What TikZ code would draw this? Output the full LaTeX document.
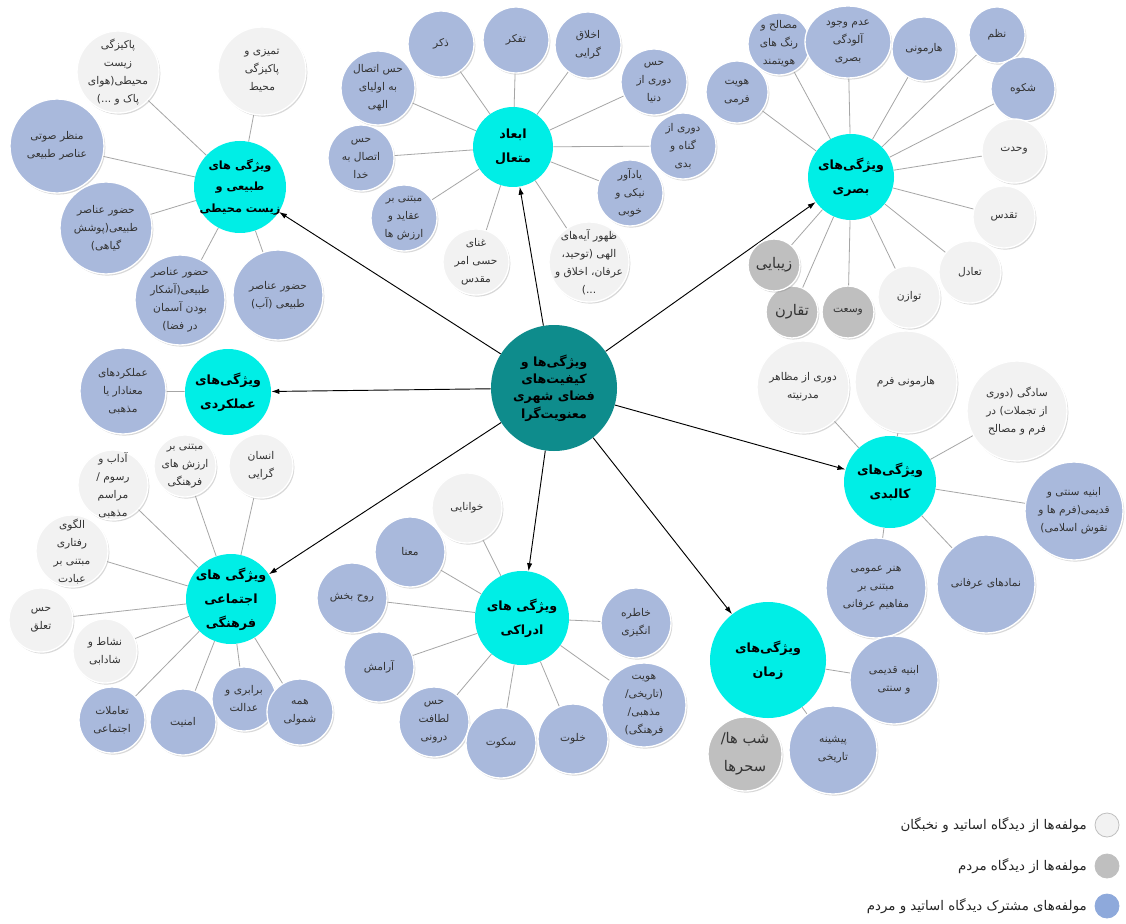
\documentclass[tikz,border=0pt]{standalone}
\usepackage{fontspec}
\usetikzlibrary{arrows.meta,shadows,shapes.geometric}
\newfontfamily\arabicfont[Script=Arabic]{DejaVu Sans}
\TeXXeTstate=1
\newcommand{\rl}[1]{\beginR #1\endR}
\definecolor{leafB}{RGB}{169,185,220}
\definecolor{leafL}{RGB}{242,242,242}
\definecolor{leafG}{RGB}{191,191,191}
\definecolor{catC}{RGB}{0,238,230}
\definecolor{ctrT}{RGB}{14,140,140}
\definecolor{legB}{RGB}{142,169,219}
\tikzset{
  rad/.style={minimum size=#1*1.5pt},
  lfbase/.style={circle, inner sep=0pt, draw=white, line width=1pt,
    drop shadow={shadow xshift=1pt, shadow yshift=-1.2pt, opacity=0.3}},
  lfblue/.style={lfbase, fill=leafB},
  lflight/.style={lfbase, fill=leafL},
  lfgray/.style={lfbase, fill=leafG},
  lftxt/.style={inner sep=0pt, align=center, text=black!80,
    font=\arabicfont\fontsize{8}{13.5}\selectfont},
  lfbig/.style={lftxt, font=\arabicfont\fontsize{11}{21}\selectfont},
  catnode/.style={circle, inner sep=0pt, fill=catC},
  cattxt/.style={inner sep=0pt, align=center,
    font=\arabicfont\bfseries\fontsize{9.5}{18}\selectfont},
  leafline/.style={draw=gray!70, line width=0.6pt},
  catarrow/.style={draw=black, line width=0.7pt, -{Latex[length=6pt,width=4pt]}},
  legtxt/.style={inner sep=0pt, anchor=east, text=black!85,
    font=\arabicfont\fontsize{10}{12}\selectfont}
}
\newcommand{\leafat}[6][lftxt]{%
  \node[#2,rad=#5] (#3) at (#4) {};
  \node[#1] (#3t) at (#3) {#6};}
\newcommand{\catat}[4]{%
  \node[catnode,rad=#3] (#1) at (#2) {};
  \node[cattxt] (#1t) at (#1) {#4};}
\begin{document}
\begin{tikzpicture}[x=0.75pt,y=-0.75pt]
\useasboundingbox (0,0) rectangle (1126,923);
\fill[white] (0,0) rectangle (1126,923);

% center
\node[circle, inner sep=0pt, fill=ctrT, rad=63] (ctr) at (554,388) {};
\node[cattxt, font=\arabicfont\bfseries\fontsize{9.5}{13}\selectfont] (ctrt) at (ctr)
  {\rl{ویژگی‌ها و}\\\rl{کیفیت‌های}\\\rl{فضای شهری}\\\rl{معنویت‌گرا}};

% categories
\node[catnode,rad=46] (c1) at (240,187) {};
\node[cattxt, font=\arabicfont\bfseries\fontsize{8.5}{16}\selectfont] (c1t) at (c1)
  {\rl{ویژگی های}\\\rl{طبیعی و}\\\rl{زیست محیطی}};
\catat{c2}{513,147}{40}{\rl{ابعاد}\\\rl{متعال}}
\catat{c3}{851,177}{43}{\rl{ویژگی‌های}\\\rl{بصری}}
\catat{c4}{228,392}{43}{\rl{ویژگی‌های}\\\rl{عملکردی}}
\catat{c5}{890,482}{46}{\rl{ویژگی‌های}\\\rl{کالبدی}}
\catat{c6}{231,599}{45}{\rl{ویژگی های}\\\rl{اجتماعی}\\\rl{فرهنگی}}
\catat{c7}{522,618}{47}{\rl{ویژگی های}\\\rl{ادراکی}}
\catat{c8}{768,660}{58}{\rl{ویژگی‌های}\\\rl{زمان}}

\foreach \c in {c1,c2,c3,c4,c5,c6,c7,c8}
  \draw[catarrow] (ctr) -- (\c);

% cluster 1
\leafat{lflight}{a1}{118,72}{41}{\rl{پاکیزگی}\\\rl{زیست}\\\rl{محیطی(هوای}\\\rl{پاک و ...)}}
\leafat{lflight}{a2}{262,71}{44}{\rl{تمیزی و}\\\rl{پاکیزگی}\\\rl{محیط}}
\leafat{lfblue}{a3}{57,146}{47}{\rl{منظر صوتی}\\\rl{عناصر طبیعی}}
\leafat{lfblue}{a4}{106,228}{46}{\rl{حضور عناصر}\\\rl{طبیعی(پوشش}\\\rl{گیاهی)}}
\leafat{lfblue}{a5}{180,300}{45}{\rl{حضور عناصر}\\\rl{طبیعی(آشکار}\\\rl{بودن آسمان}\\\rl{در فضا)}}
\leafat{lfblue}{a6}{278,295}{45}{\rl{حضور عناصر}\\\rl{طبیعی (آب)}}
\foreach \l in {a1,a2,a3,a4,a5,a6} \draw[leafline] (c1) -- (\l);

% cluster 2
\leafat{lfblue}{b1}{378,88}{37}{\rl{حس اتصال}\\\rl{به اولیای}\\\rl{الهی}}
\leafat{lfblue}{b2}{441,44}{33}{\rl{ذکر}}
\leafat{lfblue}{b3}{516,40}{33}{\rl{تفکر}}
\leafat{lfblue}{b4}{588,45}{33}{\rl{اخلاق}\\\rl{گرایی}}
\leafat{lfblue}{b5}{654,82}{33}{\rl{حس}\\\rl{دوری از}\\\rl{دنیا}}
\leafat{lfblue}{b6}{683,146}{33}{\rl{دوری از}\\\rl{گناه و}\\\rl{بدی}}
\leafat{lfblue}{b7}{630,193}{33}{\rl{یادآور}\\\rl{نیکی و}\\\rl{خوبی}}
\leafat{lflight}{b8}{589,262}{40}{\rl{ظهور آیه‌های}\\\rl{الهی (توحید،}\\\rl{عرفان، اخلاق و}\\\rl{...)}}
\leafat{lflight}{b9}{476,262}{33}{\rl{غنای}\\\rl{حسی امر}\\\rl{مقدس}}
\leafat{lfblue}{b10}{404,218}{33}{\rl{مبتنی بر}\\\rl{عقاید و}\\\rl{ارزش ها}}
\leafat{lfblue}{b11}{361,158}{33}{\rl{حس}\\\rl{اتصال به}\\\rl{خدا}}
\foreach \l in {b1,b2,b3,b4,b5,b6,b7,b8,b9,b10,b11} \draw[leafline] (c2) -- (\l);

% cluster 3
\leafat{lfblue}{d1}{737,92}{31}{\rl{هویت}\\\rl{فرمی}}
\leafat{lfblue}{d2}{779,44}{31}{\rl{مصالح و}\\\rl{رنگ های}\\\rl{هویتمند}}
\node[lfblue, ellipse, minimum width=64.5pt, minimum height=54pt] (d3) at (848,42) {};
\node[lftxt] (d3t) at (d3) {\rl{عدم وجود}\\\rl{آلودگی}\\\rl{بصری}};
\leafat{lfblue}{d4}{924,49}{32}{\rl{هارمونی}}
\leafat{lfblue}{d5}{997,35}{28}{\rl{نظم}}
\leafat{lfblue}{d6}{1023,89}{32}{\rl{شکوه}}
\leafat{lflight}{d7}{1014,151}{32}{\rl{وحدت}}
\leafat{lflight}{d8}{1004,217}{31}{\rl{تقدس}}
\leafat{lflight}{d9}{970,272}{31}{\rl{تعادل}}
\leafat{lflight}{d10}{909,297}{31}{\rl{توازن}}
\leafat{lfgray}{d11}{848,312}{26}{\rl{وسعت}}
\leafat[lfbig]{lfgray}{d12}{792,312}{26}{\rl{تقارن}}
\leafat[lfbig]{lfgray}{d13}{774,265}{26}{\rl{زیبایی}}
\foreach \l in {d1,d2,d3,d4,d5,d6,d7,d8,d9,d10,d11,d12,d13} \draw[leafline] (c3) -- (\l);

% cluster 4
\leafat{lfblue}{e1}{123,391}{43}{\rl{عملکردهای}\\\rl{معنادار یا}\\\rl{مذهبی}}
\draw[leafline] (c4) -- (e1);

% cluster 5
\leafat{lflight}{f1}{803,387}{46}{\rl{دوری از مظاهر}\\\rl{مدرنیته}}
\leafat{lflight}{f2}{906,382}{51}{\rl{هارمونی فرم}}
\leafat{lflight}{f3}{1017,411}{50}{\rl{سادگی (دوری}\\\rl{از تجملات) در}\\\rl{فرم و مصالح}}
\leafat{lfblue}{f4}{1074,511}{49}{\rl{ابنیه سنتی و}\\\rl{قدیمی(فرم ها و}\\\rl{نقوش اسلامی)}}
\leafat{lfblue}{f5}{986,584}{49}{\rl{نمادهای عرفانی}}
\leafat{lfblue}{f6}{876,588}{50}{\rl{هنر عمومی}\\\rl{مبتنی بر}\\\rl{مفاهیم عرفانی}}
\foreach \l in {f1,f2,f3,f4,f5,f6} \draw[leafline] (c5) -- (\l);

% cluster 6
\leafat{lflight}{g1}{261,466}{32}{\rl{انسان}\\\rl{گرایی}}
\leafat{lflight}{g2}{185,466}{31}{\rl{مبتنی بر}\\\rl{ارزش های}\\\rl{فرهنگی}}
\leafat{lflight}{g3}{113,485}{35}{\rl{آداب و}\\\rl{رسوم /}\\\rl{مراسم}\\\rl{مذهبی}}
\leafat{lflight}{g4}{72,551}{36}{\rl{الگوی}\\\rl{رفتاری}\\\rl{مبتنی بر}\\\rl{عبادت}}
\leafat{lflight}{g5}{41,620}{32}{\rl{حس}\\\rl{تعلق}}
\leafat{lflight}{g6}{105,651}{32}{\rl{نشاط و}\\\rl{شادابی}}
\leafat{lfblue}{g7}{112,720}{33}{\rl{تعاملات}\\\rl{اجتماعی}}
\leafat{lfblue}{g8}{183,722}{33}{\rl{امنیت}}
\leafat{lfblue}{g9}{244,699}{32}{\rl{برابری و}\\\rl{عدالت}}
\leafat{lfblue}{g10}{300,712}{33}{\rl{همه}\\\rl{شمولی}}
\foreach \l in {g1,g2,g3,g4,g5,g6,g7,g8,g9,g10} \draw[leafline] (c6) -- (\l);

% cluster 7
\leafat{lflight}{h1}{467,508}{35}{\rl{خوانایی}}
\leafat{lfblue}{h2}{410,552}{35}{\rl{معنا}}
\leafat{lfblue}{h3}{352,598}{35}{\rl{روح بخش}}
\leafat{lfblue}{h4}{379,667}{35}{\rl{آرامش}}
\leafat{lfblue}{h5}{434,722}{35}{\rl{حس}\\\rl{لطافت}\\\rl{درونی}}
\leafat{lfblue}{h6}{501,743}{35}{\rl{سکوت}}
\leafat{lfblue}{h7}{573,739}{35}{\rl{خلوت}}
\leafat{lfblue}{h8}{644,705}{42}{\rl{هویت}\\\rl{(تاریخی/}\\\rl{مذهبی/}\\\rl{فرهنگی)}}
\leafat{lfblue}{h9}{636,623}{35}{\rl{خاطره}\\\rl{انگیزی}}
\foreach \l in {h1,h2,h3,h4,h5,h6,h7,h8,h9} \draw[leafline] (c7) -- (\l);

% cluster 8
\leafat{lfblue}{i1}{894,680}{44}{\rl{ابنیه قدیمی}\\\rl{و سنتی}}
\leafat{lfblue}{i2}{833,750}{44}{\rl{پیشینه}\\\rl{تاریخی}}
\leafat[lfbig]{lfgray}{i3}{745,754}{37}{\rl{شب ها/}\\\rl{سحرها}}
\foreach \l in {i1,i2,i3} \draw[leafline] (c8) -- (\l);

% legend
\node[circle, inner sep=0pt, rad=12, fill=leafL, draw=gray!50, line width=0.6pt] (k1) at (1107,825) {};
\node[circle, inner sep=0pt, rad=12, fill=leafG, draw=gray!50, line width=0.6pt] (k2) at (1107,866) {};
\node[circle, inner sep=0pt, rad=12, fill=legB, draw=legB, line width=0.6pt] (k3) at (1107,906) {};
\node[legtxt] (k1t) at (1087,825) {\rl{مولفه‌ها از دیدگاه اساتید و نخبگان}};
\node[legtxt] (k2t) at (1087,866) {\rl{مولفه‌ها از دیدگاه مردم}};
\node[legtxt] (k3t) at (1087,906) {\rl{مولفه‌های مشترک دیدگاه اساتید و مردم}};
\end{tikzpicture}
\end{document}
